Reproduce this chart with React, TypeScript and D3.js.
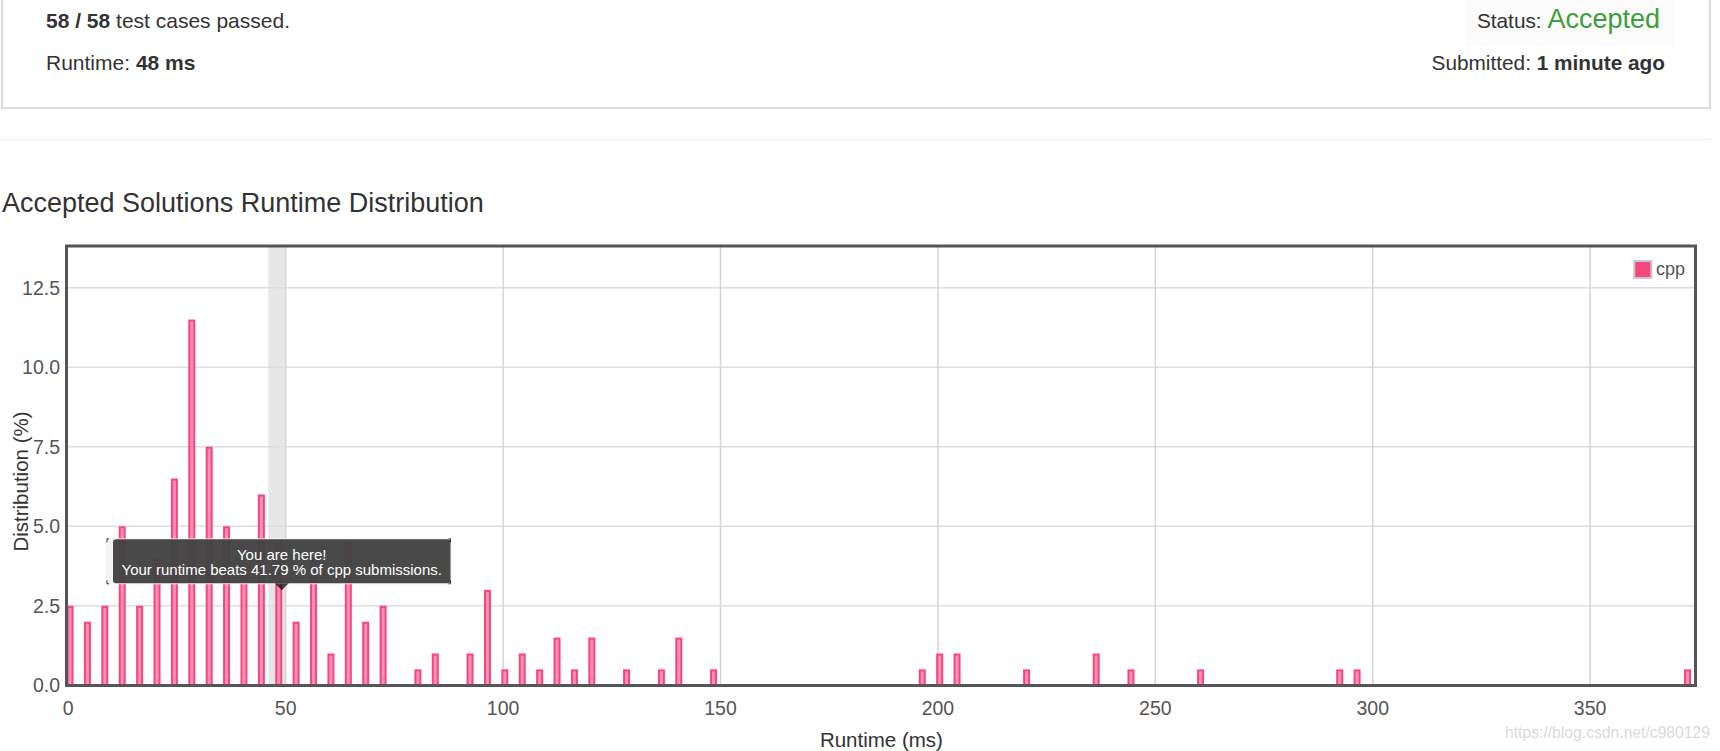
import React, { useEffect } from "react";
import * as d3 from "d3";

const runtimes = [0, 4, 8, 12, 16, 20, 24, 28, 32, 36, 40, 44, 48, 52, 56, 60, 64, 68, 72, 80, 84, 92, 96, 100, 104, 108, 112, 116, 120, 128, 136, 140, 148, 196, 200, 204, 220, 236, 244, 260, 292, 296, 372];
const distribution = [2.5, 2, 2.5, 5, 2.5, 4, 6.5, 11.5, 7.5, 5, 3.5, 6, 4.5, 2, 4, 1, 4.5, 2, 2.5, 0.5, 1, 1, 3, 0.5, 1, 0.5, 1.5, 0.5, 1.5, 0.5, 0.5, 1.5, 0.5, 0.5, 1, 1, 0.5, 1, 0.5, 0.5, 0.5, 0.5, 0.5];
const xTicks = [0, 50, 100, 150, 200, 250, 300, 350];
const yTicks = [0, 2.5, 5, 7.5, 10, 12.5];
const seriesName = "cpp";
const myRuntime = 48;
const beatsPct = "41.79";
const xDomainMax = 374;
const yDomainMax = 13.78;

const FONT = "'Liberation Sans', Arial, Helvetica, sans-serif";

export default function App() {
  useEffect(() => {
    document.body.style.margin = "0";
    document.body.style.background = "#fff";
  }, []);

  const W = 1720, H = 751;
  const left = 68.3, right = 1694.5, top = 247, bottom = 685.3;
  const x = d3.scaleLinear().domain([0, xDomainMax]).range([left, right]);
  const y = d3.scaleLinear().domain([0, yDomainMax]).range([bottom, top]);
  const barW = 7;
  const barShift = 0.4;
  const data = runtimes.map((r, i) => ({ r, v: distribution[i] }));
  const tipCx = x(myRuntime + barShift) + 3;
  const tipW = 337.5, tipH = 44;
  const tipTop = 539.3;

  return (
    <div style={{ position: "fixed", left: 0, top: 0 }}>
      <svg width={W} height={H} style={{ display: "block", fontFamily: FONT }}>
        <rect x={0} y={0} width={W} height={H} fill="#fff" />
        {/* header panel */}
        <rect x={2} y={-5} width={1708} height={113} fill="#fff" stroke="#dcdcdc" strokeWidth={2} />
        <rect x={1465} y={0} width={208} height={46} fill="#fbfbfb" />
        <text x={46} y={27.5} fontSize={21} fill="#333">
          <tspan fontWeight="bold">58 / 58</tspan> test cases passed.
        </text>
        <text x={46} y={70} fontSize={21} fill="#333">
          Runtime: <tspan fontWeight="bold">48 ms</tspan>
        </text>
        <text x={1660} y={27.5} textAnchor="end" fill="#333" fontSize={20.8}>
          Status: <tspan fill="#3d9e3d" fontSize={27}>Accepted</tspan>
        </text>
        <text x={1665} y={70} textAnchor="end" fill="#333" fontSize={20.8}>
          Submitted: <tspan fontWeight="bold">1 minute ago</tspan>
        </text>
        <line x1={0} x2={1711} y1={139.5} y2={139.5} stroke="#eeeeee" strokeWidth={1} />

        <text x={2} y={211.7} fontSize={27} fill="#333">Accepted Solutions Runtime Distribution</text>

        {/* highlight band */}
        <rect x={x(myRuntime - 2)} y={top} width={x(myRuntime + 2) - x(myRuntime - 2)} height={bottom - top} fill="#e6e6e6" />

        {/* gridlines */}
        {yTicks.filter((t) => t > 0).map((t) => (
          <line key={"gy" + t} x1={left} x2={right} y1={y(t)} y2={y(t)} stroke="#dedede" strokeWidth={1.5} />
        ))}
        {xTicks.filter((t) => t > 0).map((t) => (
          <line key={"gx" + t} x1={x(t)} x2={x(t)} y1={top} y2={bottom} stroke="#d6d6d6" strokeWidth={1.5} />
        ))}

        {/* bars */}
        {data.map((d) => {
          const cx = x(d.r + barShift);
          const yt = y(d.v);
          return (
            <rect
              key={"b" + d.r}
              x={cx - barW / 2 + 1}
              y={yt + 1}
              width={barW - 2}
              height={bottom - yt - 1}
              fill="#fc8fb2"
              stroke="#f5477d"
              strokeWidth={2}
            />
          );
        })}

        {/* frame */}
        <rect x={66.5} y={246} width={1629} height={439.5} fill="none" stroke="#555" strokeWidth={3} />

        {/* y tick labels */}
        {yTicks.map((t) => (
          <text key={"ty" + t} x={60} y={y(t) + 7} textAnchor="end" fontSize={19.5} fill="#555">
            {t.toFixed(1)}
          </text>
        ))}
        {/* x tick labels */}
        {xTicks.map((t) => (
          <text key={"tx" + t} x={x(t)} y={715} textAnchor="middle" fontSize={19.5} fill="#555">
            {t}
          </text>
        ))}
        <text x={(left + right) / 2} y={747} textAnchor="middle" fontSize={20.5} fill="#333">Runtime (ms)</text>
        <text transform={`translate(28,481.5) rotate(-90)`} textAnchor="middle" fontSize={20.5} fill="#333">Distribution (%)</text>

        {/* legend */}
        <rect x={1634.3} y={261} width={17} height={17} fill="#f4477c" stroke="#c8c8c8" strokeWidth={2} />
        <text x={1656} y={275} fontSize={18} fill="#555">{seriesName}</text>

        {/* tooltip */}
        <g>
          <rect x={tipCx - tipW / 2 - 7} y={tipTop - 1} width={tipW + 8} height={tipH + 2} fill="#f2f2f2" opacity={0.9} />
          <path
            d={`M${tipCx - tipW / 2 - 6},${tipTop + 3} V${tipTop - 0.5} H${tipCx - tipW / 2 - 4}
               M${tipCx - tipW / 2 - 6},${tipTop + tipH - 3} V${tipTop + tipH + 0.5} H${tipCx - tipW / 2 - 4}
               M${tipCx + tipW / 2},${tipTop + 3} V${tipTop - 0.5} H${tipCx + tipW / 2 - 2}
               M${tipCx + tipW / 2},${tipTop + tipH - 3} V${tipTop + tipH + 0.5} H${tipCx + tipW / 2 - 2}`}
            fill="none"
            stroke="#333"
            strokeWidth={1}
          />
          <rect x={tipCx - tipW / 2} y={tipTop} width={tipW} height={tipH} rx={3} fill="rgba(0,0,0,0.7)" />
          <path d={`M${tipCx - 7},${tipTop + tipH} L${tipCx + 7},${tipTop + tipH} L${tipCx},${tipTop + tipH + 7} Z`} fill="rgba(0,0,0,0.7)" />
          <text x={tipCx} y={560} textAnchor="middle" fontSize={15} fill="#fff">You are here!</text>
          <text x={tipCx} y={574.5} textAnchor="middle" fontSize={15} fill="#fff">
            {`Your runtime beats ${beatsPct} % of ${seriesName} submissions.`}
          </text>
        </g>

        <text x={1710} y={738} textAnchor="end" fontSize={15.7} fill="#dadada">https://blog.csdn.net/c980129</text>
      </svg>
    </div>
  );
}
